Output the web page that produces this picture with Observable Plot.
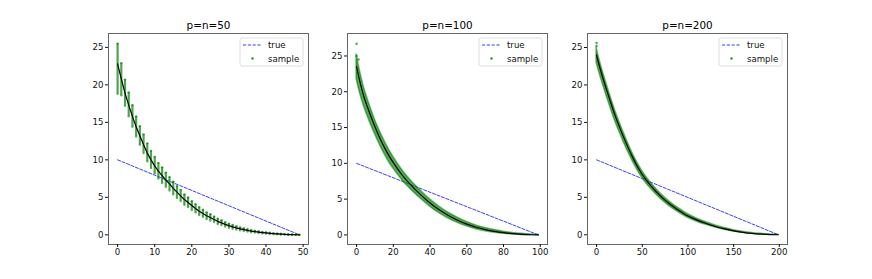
<!DOCTYPE html>
<html>
<head>
<meta charset="utf-8">
<script src="https://cdn.jsdelivr.net/npm/d3@7"></script>
<script src="https://cdn.jsdelivr.net/npm/@observablehq/plot@0.6"></script>
<style>
  html, body { margin: 0; padding: 0; background: #fff; }
  #wrap { position: relative; width: 872px; height: 279px; overflow: hidden; font-family: "DejaVu Sans", sans-serif; }
  .panel { position: absolute; top: 0; }
</style>
</head>
<body>
<div id="wrap"></div>
<script>
// ---------- data ----------
const titles = ["p=n=50", "p=n=100", "p=n=200"];
const legendLabels = ["true", "sample"];

// true spectrum end points
const trueStartValue = 10;
const trueEndValue = 0;

// p = 50 : every index
const idx50 = [0,1,2,3,4,5,6,7,8,9,10,11,12,13,14,15,16,17,18,19,20,21,22,23,24,25,26,27,28,29,30,31,32,33,34,35,36,37,38,39,40,41,42,43,44,45,46,47,48,49];
const mean50 = [22.8,20.8,18.9,17.3,15.8,14.4,13.2,12.0,10.9,10.0,9.2,8.5,7.9,7.3,6.8,6.2,5.7,5.2,4.7,4.3,3.9,3.5,3.15,2.85,2.55,2.3,2.05,1.8,1.6,1.4,1.22,1.06,0.92,0.8,0.69,0.59,0.5,0.43,0.36,0.3,0.25,0.2,0.16,0.12,0.09,0.06,0.04,0.02,0.01,0.0];
const lo50 = [18.8,18.6,17.2,15.8,14.4,13.1,12.0,10.9,9.8,8.9,8.2,7.5,6.9,6.4,5.9,5.4,4.9,4.5,4.0,3.7,3.3,3.0,2.65,2.4,2.1,1.9,1.7,1.45,1.3,1.1,0.95,0.82,0.7,0.6,0.52,0.43,0.36,0.3,0.25,0.2,0.16,0.12,0.09,0.07,0.05,0.03,0.02,0.01,0.0,0.0];
const hi50 = [25.5,22.9,20.7,19.0,17.3,15.8,14.5,13.4,12.2,11.2,10.4,9.6,9.0,8.3,7.7,7.1,6.5,6.0,5.4,5.0,4.5,4.1,3.7,3.35,3.0,2.75,2.45,2.15,1.95,1.7,1.5,1.32,1.15,1.0,0.88,0.76,0.65,0.56,0.48,0.4,0.34,0.28,0.23,0.18,0.14,0.1,0.07,0.04,0.02,0.01];

// p = 100 : sampled indices
const idx100 = [0,1,2,3,4,6,8,10,12,15,18,20,25,30,35,40,45,50,55,60,65,70,75,80,85,90,95,99];
const mean100 = [23.5,22.3,21.2,20.2,19.3,17.8,16.4,15.1,13.9,12.3,10.9,10.1,8.3,6.85,5.6,4.45,3.5,2.7,2.05,1.5,1.07,0.75,0.5,0.31,0.17,0.08,0.02,0.0];
const lo100 = [21.8,20.7,19.7,18.8,18.0,16.6,15.3,14.1,12.95,11.4,10.05,9.3,7.6,6.25,5.05,3.95,3.05,2.3,1.7,1.2,0.81,0.53,0.32,0.17,0.07,0.01,0.0,0.0];
const hi100 = [25.2,23.9,22.7,21.6,20.6,19.0,17.5,16.1,14.85,13.2,11.75,10.9,9.0,7.45,6.15,4.95,3.95,3.1,2.4,1.8,1.33,0.97,0.68,0.45,0.27,0.15,0.06,0.02];
const outIdx100 = [0, 0, 1];
const outVal100 = [26.7, 25.0, 24.5];

// p = 200 : sampled indices
const idx200 = [0,2,5,10,15,20,25,30,35,40,45,50,55,60,70,80,90,100,110,120,130,140,150,160,170,180,190,199];
const mean200 = [24.0,23.0,21.7,19.7,17.8,16.0,14.4,12.9,11.5,10.2,9.05,8.05,7.2,6.45,5.15,4.1,3.25,2.5,1.95,1.5,1.1,0.78,0.52,0.33,0.18,0.08,0.02,0.0];
const lo200 = [23.0,22.1,20.85,18.9,17.05,15.3,13.75,12.3,10.95,9.7,8.58,7.61,6.79,6.07,4.81,3.8,2.99,2.27,1.75,1.33,0.96,0.67,0.43,0.26,0.13,0.04,0.0,0.0];
const hi200 = [25.0,23.9,22.55,20.5,18.55,16.7,15.05,13.5,12.05,10.7,9.52,8.49,7.61,6.83,5.49,4.4,3.51,2.73,2.15,1.67,1.24,0.89,0.61,0.4,0.23,0.12,0.04,0.01];
const outIdx200 = [0, 0];
const outVal200 = [25.6, 25.2];

const xTicks50 = [0,10,20,30,40,50];
const xTicks100 = [0,20,40,60,80,100];
const xTicks200 = [0,50,100,150,200];
const yTicks = [0,5,10,15,20,25];

// ---------- drawing ----------
const FONT = "DejaVu Sans";
const GREEN = "#008000";
const wrap = document.getElementById("wrap");

function rows(ix, mean, lo, hi) {
  return ix.map((d, k) => ({i: d, m: mean[k], lo: lo[k], hi: hi[k]}));
}

function panel(cfg) {
  const data = rows(cfg.idx, cfg.mean, cfg.lo, cfg.hi);
  const trueLine = [{i: 0, v: trueStartValue}, {i: cfg.p - 1, v: trueEndValue}];
  const outliers = cfg.outIdx ? cfg.outIdx.map((d, k) => ({i: d, v: cfg.outVal[k]})) : [];
  const marks = [
    Plot.line(trueLine, {x: "i", y: "v", stroke: "#0000ff", strokeWidth: 0.9, strokeOpacity: 0.85, strokeDasharray: "3.2,1.6"})
  ];
  if (cfg.cluster) {
    marks.push(Plot.ruleX(data, {x: "i", y1: "lo", y2: "hi", stroke: GREEN, strokeWidth: 2.2, strokeOpacity: 0.7}));
    marks.push(Plot.dot(data, {x: "i", y: "lo", r: 1.2, fill: GREEN, fillOpacity: 0.6}));
    marks.push(Plot.dot(data, {x: "i", y: "hi", r: 1.2, fill: GREEN, fillOpacity: 0.6}));
  } else {
    marks.push(Plot.areaY(data, {x: "i", y1: "lo", y2: "hi", fill: GREEN, fillOpacity: 0.65, stroke: GREEN, strokeWidth: 1.6, strokeOpacity: 0.55, curve: "monotone-x"}));
  }
  marks.push(Plot.dot(outliers, {x: "i", y: "v", r: 1.2, fill: GREEN, fillOpacity: 0.7}));
  marks.push(Plot.line(data, {x: "i", y: "m", stroke: "#000", strokeWidth: 1.2, curve: cfg.cluster ? "linear" : "monotone-x"}));
  marks.push(Plot.frame({stroke: "#666", strokeWidth: 1}));
  marks.push(Plot.axisX({ticks: cfg.xTicks, tickSize: 3, tickPadding: 1.5, fontSize: 8.6, label: null, tickFormat: d3.format("d")}));
  marks.push(Plot.axisY({ticks: yTicks, tickSize: 3, tickPadding: 2, fontSize: 8.6, label: null, tickFormat: d3.format("d")}));
  marks.push(Plot.text([cfg.title], {frameAnchor: "top", dy: -5, lineAnchor: "bottom", fontSize: 10.4, fill: "#000", text: d => d}));

  const chart = Plot.plot({
    width: 240, height: 279,
    marginTop: 33, marginBottom: 35, marginLeft: 32, marginRight: 8,
    style: {fontFamily: FONT, color: "#111", background: "transparent", overflow: "visible"},
    x: {domain: cfg.xDomain, label: null},
    y: {domain: cfg.yDomain, label: null},
    marks
  });
  chart.classList.add("panel");
  chart.style.left = cfg.left + "px";
  wrap.appendChild(chart);

  // legend (upper right, inside the frame)
  const svg = d3.select(chart);
  const bx = 232 - 5 - 63, by = 33 + 5;
  const g = svg.append("g").attr("font-family", FONT).attr("font-size", 8.6).attr("text-anchor", "start").attr("fill", "#111");
  g.append("rect").attr("x", bx).attr("y", by).attr("width", 63).attr("height", 28)
    .attr("rx", 2).attr("fill", "#fff").attr("fill-opacity", 0.85).attr("stroke", "#d6d6d6").attr("stroke-width", 0.8);
  g.append("line").attr("x1", bx + 3).attr("x2", bx + 22).attr("y1", by + 7).attr("y2", by + 7)
    .attr("stroke", "#0000ff").attr("stroke-opacity", 0.85).attr("stroke-width", 0.9).attr("stroke-dasharray", "3.2,1.6");
  g.append("text").attr("x", bx + 28).attr("y", by + 10).attr("text-anchor", "start").text(legendLabels[0]);
  g.append("circle").attr("cx", bx + 12.5).attr("cy", by + 20.5).attr("r", 1.3).attr("fill", GREEN).attr("fill-opacity", 0.8);
  g.append("text").attr("x", bx + 28).attr("y", by + 23.5).attr("text-anchor", "start").text(legendLabels[1]);
}

panel({p: 50, title: titles[0], left: 76, cluster: true,
  idx: idx50, mean: mean50, lo: lo50, hi: hi50,
  xDomain: [-2.45, 51.45], yDomain: [-1.29, 26.85], xTicks: xTicks50});
panel({p: 100, title: titles[1], left: 315, cluster: false,
  idx: idx100, mean: mean100, lo: lo100, hi: hi100, outIdx: outIdx100, outVal: outVal100,
  xDomain: [-4.95, 103.95], yDomain: [-1.34, 28.14], xTicks: xTicks100});
panel({p: 200, title: titles[2], left: 555, cluster: false,
  idx: idx200, mean: mean200, lo: lo200, hi: hi200, outIdx: outIdx200, outVal: outVal200,
  xDomain: [-9.95, 208.95], yDomain: [-1.3, 26.87], xTicks: xTicks200});
</script>
</body>
</html>
